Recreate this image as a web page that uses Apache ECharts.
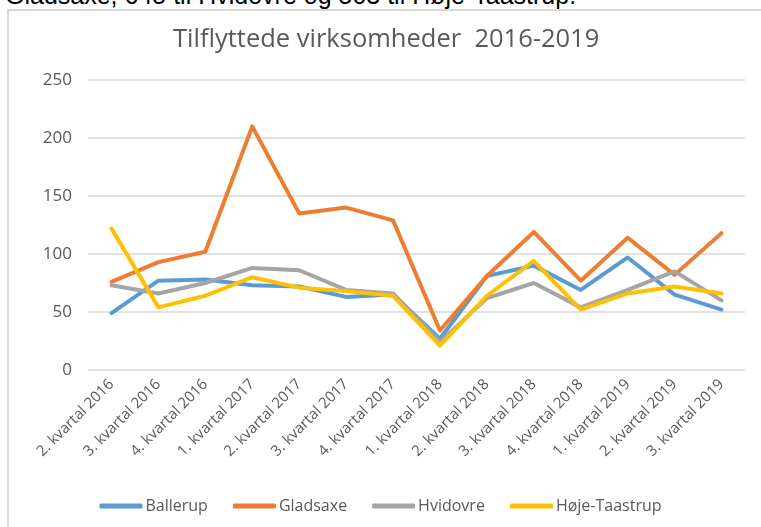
<!DOCTYPE html>
<html>
<head>
<meta charset="utf-8">
<script src="https://cdn.jsdelivr.net/npm/echarts@6/dist/echarts.min.js"></script>
<style>
  html, body { margin: 0; padding: 0; background: #fff; overflow: hidden; }
  #cut { position: absolute; left: 5px; top: -17px; font: 25px/25px "Liberation Sans", Arial, sans-serif; color: #000; white-space: nowrap; }
  #frame { position: absolute; left: 7px; top: 9px; width: 900px; height: 700px; border: 2px solid #d9d9d9; }
  #chart { position: absolute; left: 0; top: 0; width: 761px; height: 527px; }
</style>
</head>
<body>
<div id="cut">Gladsaxe, 645 til Hvidovre og 503 til Høje-Taastrup.</div>
<div id="frame"></div>
<div id="chart"></div>
<script>
const quarters = ['2. kvartal 2016', '3. kvartal 2016', '4. kvartal 2016', '1. kvartal 2017', '2. kvartal 2017',
  '3. kvartal 2017', '4. kvartal 2017', '1. kvartal 2018', '2. kvartal 2018', '3. kvartal 2018',
  '4. kvartal 2018', '1. kvartal 2019', '2. kvartal 2019', '3. kvartal 2019']
const ballerup = [49, 77, 78, 73, 72, 63, 65, 27, 81, 90, 69, 97, 65, 52]
const gladsaxe = [76, 93, 102, 210, 135, 140, 129, 34, 81, 119, 77, 114, 82, 118]
const hvidovre = [73, 66, 75, 88, 86, 69, 66, 24, 62, 75, 54, 69, 85, 60]
const hojeTaastrup = [122, 54, 64, 80, 71, 68, 64, 21, 64, 94, 52, 66, 72, 66]
const yTicks = [0, 50, 100, 150, 200, 250]

const textColor = '#595959'
const font = '"Open Sans", sans-serif'

const chart = echarts.init(document.getElementById('chart'))

const line = (name, data, color) => ({
  name,
  type: 'line',
  data,
  symbol: 'none',
  itemStyle: { color },
  lineStyle: { color, width: 4, cap: 'round', join: 'round' }
})

chart.setOption({
  animation: false,
  title: {
    text: 'Tilflyttede virksomheder  2016-2019',
    left: 168,
    top: 22,
    textStyle: { color: textColor, fontFamily: font, fontSize: 25.5, fontWeight: 'normal' }
  },
  legend: {
    top: 493,
    left: 'center',
    icon: 'roundRect',
    itemWidth: 43,
    itemHeight: 5,
    itemGap: 25,
    textStyle: { color: textColor, fontFamily: font, fontSize: 16, padding: [0, 0, 0, -2] }
  },
  grid: { left: 88, right: 16, top: 80, bottom: 157 },
  xAxis: {
    type: 'category',
    data: quarters,
    boundaryGap: true,
    axisLine: { show: false },
    axisTick: { show: false },
    axisLabel: { rotate: 45, margin: 12, color: textColor, fontFamily: font, fontSize: 15, interval: 0 }
  },
  yAxis: {
    type: 'value',
    min: yTicks[0],
    max: yTicks[yTicks.length - 1],
    interval: 50,
    axisLine: { show: false },
    axisTick: { show: false },
    axisLabel: { margin: 16, color: textColor, fontFamily: font, fontSize: 17 },
    splitLine: { lineStyle: { color: '#d9d9d9', width: 1.5 } }
  },
  series: [
    line('Ballerup', ballerup, '#5b9bd5'),
    line('Gladsaxe', gladsaxe, '#ed7d31'),
    line('Hvidovre', hvidovre, '#a5a5a5'),
    line('Høje-Taastrup', hojeTaastrup, '#ffc000')
  ]
})
</script>
</body>
</html>
